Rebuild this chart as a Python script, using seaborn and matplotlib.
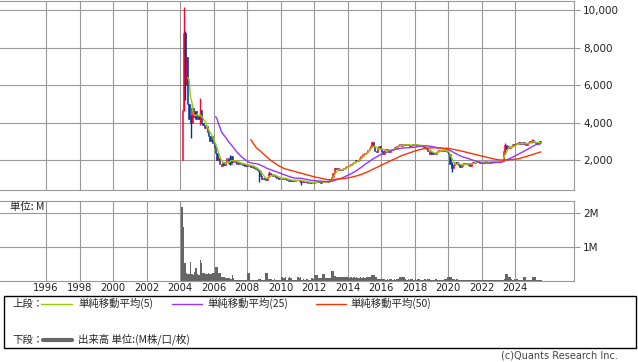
import numpy as np
import pandas as pd
import matplotlib
matplotlib.use("Agg")
import matplotlib.pyplot as plt
import seaborn as sns
from matplotlib.ticker import FuncFormatter
from matplotlib.patches import Rectangle
from matplotlib.lines import Line2D

# ---------------- data (monthly, from 2004-02) ----------------
first_open = 2000
close_2004 = [4700, 8800, 6000, 7500, 5000, 4200, 4000, 4800, 4300, 4600, 4200]
close_2005 = [4400, 4200, 4700, 4000, 3900, 3700, 3800, 3500, 3300, 3000, 3300, 2900]
close_2006 = [2700, 2400, 2000, 2100, 1800, 1700, 1900, 1750, 1900, 2100, 1850, 1800]
close_2007 = [2200, 1900, 2000, 1900, 1800, 1900, 1850, 1800, 1750, 1800, 1700, 1750]
close_2008 = [1700, 1750, 1650, 1700, 1600, 1550, 1500, 1450, 1400, 1150, 1000, 1050]
close_2009 = [1000, 950, 1100, 1300, 1250, 1200, 1150, 1200, 1100, 1050, 1000, 1050]
close_2010 = [1050, 1000, 1050, 1000, 950, 900, 950, 900, 920, 900, 950, 950]
close_2011 = [920, 900, 850, 870, 850, 860, 840, 800, 820, 800, 780, 800]
close_2012 = [820, 850, 880, 850, 800, 820, 830, 830, 850, 850, 900, 1000]
close_2013 = [1100, 1300, 1600, 1500, 1550, 1450, 1500, 1450, 1500, 1600, 1650, 1700]
close_2014 = [1700, 1750, 1800, 1850, 1900, 2000, 1950, 2000, 2100, 2200, 2300, 2350]
close_2015 = [2400, 2450, 2550, 2650, 2750, 2950, 2750, 2500, 2450, 2650, 2750, 2600]
close_2016 = [2500, 2350, 2550, 2600, 2550, 2450, 2550, 2600, 2600, 2700, 2650, 2750]
close_2017 = [2800, 2850, 2750, 2800, 2850, 2800, 2850, 2800, 2750, 2800, 2850, 2800]
close_2018 = [2850, 2750, 2800, 2800, 2750, 2800, 2700, 2650, 2600, 2500, 2350, 2450]
close_2019 = [2350, 2400, 2300, 2450, 2500, 2550, 2550, 2500, 2550, 2500, 2500, 2450]
close_2020 = [2300, 1800, 1600, 1750, 1850, 1900, 1800, 1750, 1650, 1700, 1800, 1850]
close_2021 = [1800, 1850, 1750, 1700, 1850, 1900, 1850, 1900, 1950, 1900, 1850, 1900]
close_2022 = [1850, 1900, 1950, 1900, 1900, 1850, 1900, 1950, 1900, 1900, 1950, 1900]
close_2023 = [1900, 1950, 1950, 2500, 2800, 2600, 2750, 2650, 2700, 2750, 2850, 2800]
close_2024 = [2850, 2900, 2950, 2850, 2900, 2950, 2850, 2800, 2900, 2950, 3000, 2950]
close_2025 = [3050, 2950, 2900, 2850, 2950, 3000, 2950]

# notable wicks (month, high, low)
wick_months = ["2004-03", "2004-04", "2004-08", "2004-09", "2005-03", "2006-12",
               "2008-09", "2009-04", "2011-03", "2015-06", "2020-03", "2023-05", "2025-01"]
wick_highs = [10200, 8900, 4400, 5000, 5300, 2270, 1450, 1440, 870, 2980, 1900, 2900, 3100]
wick_lows = [4600, 5200, 3200, 4000, 3900, 1750, 850, 1100, 680, 2700, 1380, 2400, 2900]

vol_2004 = [2.19, 1.60, 0.53, 0.24, 0.20, 0.22, 0.56, 0.20, 0.18, 0.28, 0.40]
vol_2005 = [0.20, 0.18, 0.62, 0.55, 0.24, 0.24, 0.20, 0.20, 0.25, 0.20, 0.20, 0.25]
vol_2006 = [0.25, 0.43, 0.43, 0.24, 0.24, 0.14, 0.12, 0.12, 0.10, 0.10, 0.10, 0.10]
vol_2007 = [0.08, 0.18, 0.10, 0.05, 0.04, 0.05, 0.03, 0.05, 0.04, 0.03, 0.04, 0.05]
vol_2008 = [0.25, 0.25, 0.04, 0.03, 0.04, 0.03, 0.04, 0.03, 0.08, 0.08, 0.04, 0.03]
vol_2009 = [0.04, 0.25, 0.25, 0.08, 0.08, 0.06, 0.05, 0.08, 0.05, 0.04, 0.03, 0.03]
vol_2010 = [0.12, 0.12, 0.10, 0.12, 0.05, 0.10, 0.12, 0.10, 0.05, 0.04, 0.05, 0.05]
vol_2011 = [0.12, 0.10, 0.12, 0.05, 0.06, 0.05, 0.08, 0.06, 0.05, 0.05, 0.10, 0.06]
vol_2012 = [0.18, 0.18, 0.18, 0.10, 0.10, 0.10, 0.22, 0.22, 0.10, 0.10, 0.10, 0.10]
vol_2013 = [0.30, 0.30, 0.17, 0.17, 0.13, 0.13, 0.13, 0.13, 0.13, 0.13, 0.13, 0.13]
vol_2014 = [0.12, 0.10, 0.12, 0.11, 0.12, 0.10, 0.12, 0.11, 0.10, 0.12, 0.11, 0.12]
vol_2015 = [0.11, 0.12, 0.12, 0.12, 0.12, 0.18, 0.18, 0.18, 0.12, 0.07, 0.07, 0.06]
vol_2016 = [0.07, 0.06, 0.07, 0.05, 0.06, 0.05, 0.07, 0.06, 0.05, 0.06, 0.05, 0.06]
vol_2017 = [0.06, 0.13, 0.13, 0.13, 0.13, 0.06, 0.05, 0.06, 0.05, 0.07, 0.06, 0.05]
vol_2018 = [0.06, 0.05, 0.07, 0.06, 0.05, 0.04, 0.05, 0.06, 0.05, 0.07, 0.06, 0.05]
vol_2019 = [0.05, 0.04, 0.05, 0.06, 0.05, 0.04, 0.05, 0.04, 0.05, 0.06, 0.08, 0.13]
vol_2020 = [0.13, 0.13, 0.13, 0.07, 0.06, 0.05, 0.06, 0.05, 0.04, 0.05, 0.05, 0.04]
vol_2021 = [0.05, 0.04, 0.05, 0.04, 0.05, 0.04, 0.03, 0.04, 0.05, 0.04, 0.03, 0.04]
vol_2022 = [0.04, 0.03, 0.04, 0.05, 0.04, 0.03, 0.04, 0.03, 0.04, 0.05, 0.04, 0.03]
vol_2023 = [0.04, 0.04, 0.05, 0.05, 0.08, 0.20, 0.20, 0.12, 0.12, 0.06, 0.05, 0.06]
vol_2024 = [0.05, 0.06, 0.05, 0.05, 0.05, 0.05, 0.13, 0.13, 0.05, 0.04, 0.05, 0.05]
vol_2025 = [0.12, 0.12, 0.12, 0.05, 0.05, 0.05, 0.05]

year_ticks = list(range(1996, 2025, 2))
price_ticks = [2000, 4000, 6000, 8000, 10000]
volume_ticks = [1, 2]
ma_windows = [5, 25, 50]
ma_colors = ["#99cc00", "#9933ff", "#ff3300"]
ma_labels = ["単純移動平均(5)", "単純移動平均(25)", "単純移動平均(50)"]

# ---------------- build frame ----------------
closes = (close_2004 + close_2005 + close_2006 + close_2007 + close_2008 + close_2009 +
          close_2010 + close_2011 + close_2012 + close_2013 + close_2014 + close_2015 +
          close_2016 + close_2017 + close_2018 + close_2019 + close_2020 + close_2021 +
          close_2022 + close_2023 + close_2024 + close_2025)
vols = (vol_2004 + vol_2005 + vol_2006 + vol_2007 + vol_2008 + vol_2009 + vol_2010 +
        vol_2011 + vol_2012 + vol_2013 + vol_2014 + vol_2015 + vol_2016 + vol_2017 +
        vol_2018 + vol_2019 + vol_2020 + vol_2021 + vol_2022 + vol_2023 + vol_2024 + vol_2025)
n = len(closes)
dates = pd.date_range("2004-02-01", periods=n, freq="MS")
df = pd.DataFrame({"date": dates, "close": closes, "vol": vols[:n]})
df["x"] = df["date"].dt.year + (df["date"].dt.month - 0.5) / 12.0
df["open"] = [first_open] + closes[:-1]
for w in ma_windows:
    df[f"ma{w}"] = df["close"].rolling(w).mean()

# ---------------- figure ----------------
sns.set_style("white")
plt.rcParams["font.family"] = ["DejaVu Sans", "Noto Sans CJK JP"]
W, H = 638, 362
fig = plt.figure(figsize=(W / 100, H / 100), dpi=100)
right_px = 574.3
ax1 = fig.add_axes([0, 1 - 190 / H, right_px / W, (190 - 0.5) / H])
ax2 = fig.add_axes([0, 1 - 281.3 / H, right_px / W, (281.3 - 201) / H])

grid_c = "#999999"
xlim = (1993.25, 2027.54)
for ax in (ax1, ax2):
    ax.set_xlim(*xlim)
    ax.set_xticks(year_ticks)
    ax.grid(True, color=grid_c, lw=0.8)
    ax.set_axisbelow(True)
    for s in ("top", "right", "bottom"):
        ax.spines[s].set_color(grid_c)
        ax.spines[s].set_linewidth(0.8)
    ax.spines["left"].set_visible(False)
    ax.yaxis.tick_right()
    ax.tick_params(axis="y", direction="out", length=4.3, width=0.8, color=grid_c,
                   labelsize=7.5, pad=2, labelcolor="#222222")
    ax.tick_params(axis="x", length=0, labelsize=7.2, pad=1.5, labelcolor="#222222")

# candles
up = df["close"] >= df["open"]
colors = np.where(up, "#ff0033", "#003399")
body_low = np.minimum(df["open"], df["close"])
body_h = np.abs(df["close"] - df["open"])
ax1.bar(df["x"], body_h, bottom=body_low, width=1 / 12 * 0.9, color=colors,
        edgecolor=colors, linewidth=0.4, zorder=2)
wick_idx = [df.index[df["date"] == pd.Timestamp(m + "-01")][0] for m in wick_months]
ax1.vlines(df.loc[wick_idx, "x"], wick_lows, wick_highs, colors=colors[wick_idx], lw=1, zorder=2)

for w, c in zip(ma_windows, ma_colors):
    sns.lineplot(data=df, x="x", y=f"ma{w}", color=c, lw=1, ax=ax1, zorder=3)
ax1.set_ylim(400, 10530)
ax1.set_yticks(price_ticks)
ax1.yaxis.set_major_formatter(FuncFormatter(lambda v, p: f"{int(v):,}"))
ax1.set_xticklabels([])
ax1.set_xlabel("")
ax1.set_ylabel("")

# volume
ax2.bar(df["x"], df["vol"], width=1 / 12, color="#666666", linewidth=0, zorder=2)
ax2.set_ylim(0, 2.36)
ax2.set_yticks(volume_ticks)
ax2.yaxis.set_major_formatter(FuncFormatter(lambda v, p: f"{int(v)}M"))
ax2.set_xticklabels([str(y) for y in year_ticks])
ax2.set_xlabel("")
ax2.set_ylabel("")
ax2.text(0.017, 0.985, "単位: M", transform=ax2.transAxes, ha="left", va="top",
         fontsize=7.5, family=["Noto Sans CJK JP", "DejaVu Sans"], color="#222222")

# legend box
jp = ["Noto Sans CJK JP", "DejaVu Sans"]
def fx(px): return px / W
def fy(py): return 1 - py / H
fig.patches.append(Rectangle((fx(3.5), fy(348)), fx(632.5), (348 - 296) / H, transform=fig.transFigure,
                             fill=False, edgecolor="black", lw=1))
r1, r2 = 303.5, 339.5
fig.text(fx(12), fy(r1), "上段：", family=jp, fontsize=7.5, va="center", ha="left")
fig.text(fx(12), fy(r2), "下段：", family=jp, fontsize=7.5, va="center", ha="left")
line_pos = [(41, 72), (172, 202), (316, 346)]
text_pos = [78, 207, 350]
for (a, b), tx, c, lab in zip(line_pos, text_pos, ma_colors, ma_labels):
    fig.add_artist(Line2D([fx(a), fx(b)], [fy(r1), fy(r1)], transform=fig.transFigure, color=c, lw=1))
    fig.text(fx(tx), fy(r1), lab, family=jp, fontsize=7.5, va="center", ha="left")
fig.add_artist(Line2D([fx(43), fx(72)], [fy(r2), fy(r2)], transform=fig.transFigure, color="#666666", lw=3))
fig.text(fx(78), fy(r2), "出来高 単位:(M株/口/枚)", family=jp, fontsize=7.5, va="center", ha="left")
fig.text(fx(618), fy(356), "(c)Quants Research Inc.", fontsize=7, va="center", ha="right", color="#444444")

fig.savefig("out.png", dpi=100, facecolor="white")
